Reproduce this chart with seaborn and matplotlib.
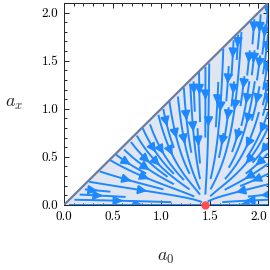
import numpy as np
import matplotlib
matplotlib.use("Agg")
import matplotlib.pyplot as plt
import seaborn as sns

# fixed point on the a0 axis and plot range
fixed_point = [1.45, 0.0]
a_lim = [0.0, 2.1]
major_ticks = [0.0, 0.5, 1.0, 1.5, 2.0]
tick_labels = ["0.0", "0.5", "1.0", "1.5", "2.0"]

sns.set_style("ticks")
plt.rcParams['font.family'] = 'serif'
plt.rcParams['font.serif'] = ['cmr10', 'DejaVu Serif']
plt.rcParams['mathtext.fontset'] = 'cm'
plt.rcParams['axes.formatter.use_mathtext'] = True


def flow(a0, ax_):
    # stable node at the fixed point, strong pull in a_x far from the axis
    u = fixed_point[0] - a0
    v = -ax_ * (0.4 + 1.8 * ax_)
    return u, v


g = np.linspace(a_lim[0], a_lim[1], 240)
A0, AX = np.meshgrid(g, g)
U, V = flow(A0, AX)
mask = AX > A0 + 0.005
U = np.ma.array(U, mask=mask)
V = np.ma.array(V, mask=mask)

fig = plt.figure(figsize=(2.7, 2.7), dpi=100)
ax = fig.add_axes([0.237, 0.241, 0.756, 0.748])

ax.fill_between(a_lim, [0, 0], a_lim, color='#dfe6f1', zorder=0)
ax.streamplot(A0, AX, U, V, color='#1e88ff', density=1.35, linewidth=1.4,
              arrowsize=1.3, zorder=2)
ax.plot(a_lim, a_lim, color='#6b7c9e', lw=1.6, zorder=3)
ax.plot(fixed_point[0], fixed_point[1], 'o', color='#ff4f4f', ms=5,
        clip_on=False, zorder=4)

ax.set_xlim(a_lim)
ax.set_ylim(a_lim)
ax.set_xticks(major_ticks)
ax.set_xticklabels(tick_labels)
ax.set_yticks(major_ticks)
ax.set_yticklabels(tick_labels)
ax.xaxis.set_minor_locator(matplotlib.ticker.MultipleLocator(0.1))
ax.yaxis.set_minor_locator(matplotlib.ticker.MultipleLocator(0.1))
ax.tick_params(which='both', direction='in', top=True, right=True,
               labelsize=9.5, width=0.6, colors='black')
ax.tick_params(which='major', length=3.5, pad=4)
ax.tick_params(which='minor', length=1.8)
for s in ax.spines.values():
    s.set_linewidth(0.7)

ax.set_xlabel(r'$a_0$', fontsize=13, labelpad=20)
ax.set_ylabel(r'$a_x$', fontsize=13, rotation=0, labelpad=20, va='center')

fig.savefig('out.png', dpi=100)
